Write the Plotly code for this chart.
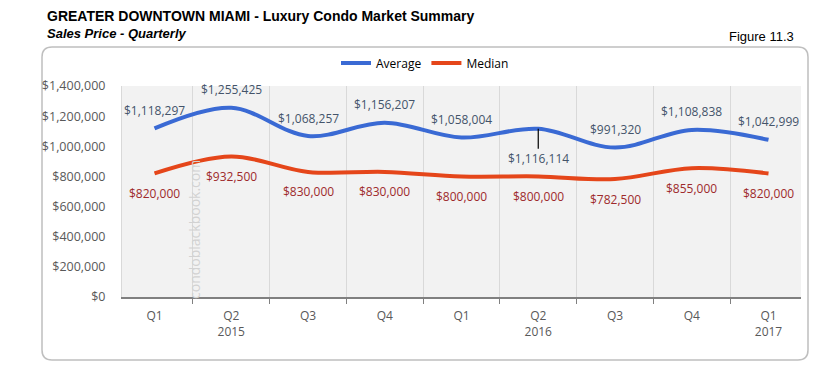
import plotly.graph_objects as go

categories = ["Q1 2015", "Q2 2015", "Q3 2015", "Q4 2015", "Q1 2016", "Q2 2016", "Q3 2016", "Q4 2016", "Q1 2017"]
tick_labels = ["Q1", "Q2<br>2015", "Q3", "Q4", "Q1", "Q2<br>2016", "Q3", "Q4", "Q1<br>2017"]
average = [1118297, 1255425, 1068257, 1156207, 1058004, 1116114, 991320, 1108838, 1042999]
median = [820000, 932500, 830000, 830000, 800000, 800000, 782500, 855000, 820000]
avg_label_shift = [18, 18, 18, 18, 18, -30, 18, 18, 18]
med_label_shift = [-20, -20, -20, -20, -20, -20, -20, -20, -20]

# page offset of the plotly div (body margin)
OFF = 8
W, H = 837 - OFF, 370 - OFF
# target page pixel positions of plot area
PL, PR, PT, PB = 122, 801, 86, 297

def px(x):
    return (x - PL) / (PR - PL)

def py(y):
    return (PB - y) / (PB - PT)

BLUE = "#3A6AD4"
RED = "#E5461A"
FONT = "Open Sans, Liberation Sans, Arial"

fig = go.Figure()
fig.add_trace(go.Scatter(x=categories, y=average, mode="lines", name="Average",
                         line=dict(color=BLUE, width=4, shape="spline", smoothing=1.0)))
fig.add_trace(go.Scatter(x=categories, y=median, mode="lines", name="Median",
                         line=dict(color=RED, width=4, shape="spline", smoothing=1.0)))

annotations = []
def fmt(v):
    return "${:,}".format(v)

for c, v, s in zip(categories, average, avg_label_shift):
    if s < 0:
        annotations.append(dict(x=c, y=v, xref="x", yref="y", text=fmt(v), showarrow=True,
                                arrowhead=0, arrowwidth=1.2, arrowcolor="#000000", ax=0, ay=-s,
                                font=dict(family=FONT, size=12, color="#44546A")))
    else:
        annotations.append(dict(x=c, y=v, xref="x", yref="y", text=fmt(v), showarrow=False,
                                yshift=s, font=dict(family=FONT, size=12, color="#44546A")))
for c, v, s in zip(categories, median, med_label_shift):
    annotations.append(dict(x=c, y=v, xref="x", yref="y", text=fmt(v), showarrow=False,
                            yshift=s, font=dict(family=FONT, size=12, color="#9E2A2B")))

# watermark
annotations.append(dict(x=px(194), y=py(230), xref="paper", yref="paper", xanchor="center", yanchor="middle",
                        text="condoblackbook.com", textangle=-90, showarrow=False,
                        font=dict(family=FONT, size=14, color="#D2D2D2")))
# titles
annotations.append(dict(x=px(45), y=py(16), xref="paper", yref="paper", xanchor="left", yanchor="middle",
                        text="<b>GREATER DOWNTOWN MIAMI - Luxury Condo Market Summary</b>", showarrow=False,
                        font=dict(family="Liberation Sans, Arial", size=14, color="#000000")))
annotations.append(dict(x=px(45), y=py(34), xref="paper", yref="paper", xanchor="left", yanchor="middle",
                        text="<b><i>Sales Price - Quarterly</i></b>", showarrow=False,
                        font=dict(family="Liberation Sans, Arial", size=13, color="#000000")))
annotations.append(dict(x=px(796), y=py(36), xref="paper", yref="paper", xanchor="right", yanchor="middle",
                        text="Figure 11.3", showarrow=False,
                        font=dict(family="Liberation Sans, Arial", size=13, color="#000000")))

# rounded border
x0, x1, y0, y1, r = px(42), px(808), py(47), py(360), 10
rx, ry = r / (PR - PL), r / (PB - PT)
path = (f"M {x0+rx},{y0} L {x1-rx},{y0} Q {x1},{y0} {x1},{y0-ry} L {x1},{y1+ry} Q {x1},{y1} {x1-rx},{y1} "
        f"L {x0+rx},{y1} Q {x0},{y1} {x0},{y1+ry} L {x0},{y0-ry} Q {x0},{y0} {x0+rx},{y0} Z")

fig.update_layout(
    width=W, height=H,
    margin=dict(l=PL - OFF, r=W - (PR - OFF), t=PT - OFF, b=H - (PB - OFF), pad=0),
    paper_bgcolor="white",
    plot_bgcolor="#F2F2F2",
    font=dict(family=FONT, size=12, color="#595959"),
    showlegend=True,
    legend=dict(orientation="h", x=px(425), y=py(63), xanchor="center", yanchor="middle",
                font=dict(family=FONT, size=12, color="#000000"), bgcolor="rgba(0,0,0,0)",
                itemwidth=30),
    annotations=annotations,
    shapes=[dict(type="path", path=path, xref="paper", yref="paper",
                 line=dict(color="#BFBFBF", width=1.5), layer="below")],
)
fig.update_xaxes(type="category", tickmode="array", tickvals=categories, ticktext=tick_labels,
                 tickson="boundaries", ticks="outside", ticklen=5, tickcolor="#808080",
                 showgrid=True, gridcolor="#D9D9D9", gridwidth=1,
                 showline=True, linecolor="#808080", linewidth=1.5, ticklabelstandoff=7,
                 tickfont=dict(family=FONT, size=12, color="#595959"), fixedrange=True)
fig.update_yaxes(range=[0, 1400000], dtick=200000, tickformat="$,.0f", showgrid=False,
                 zeroline=False, showline=True, linecolor="#D9D9D9", ticks="",
                 tickfont=dict(family=FONT, size=12.5, color="#595959"), ticklabelstandoff=13)

fig.write_html("out.html")
